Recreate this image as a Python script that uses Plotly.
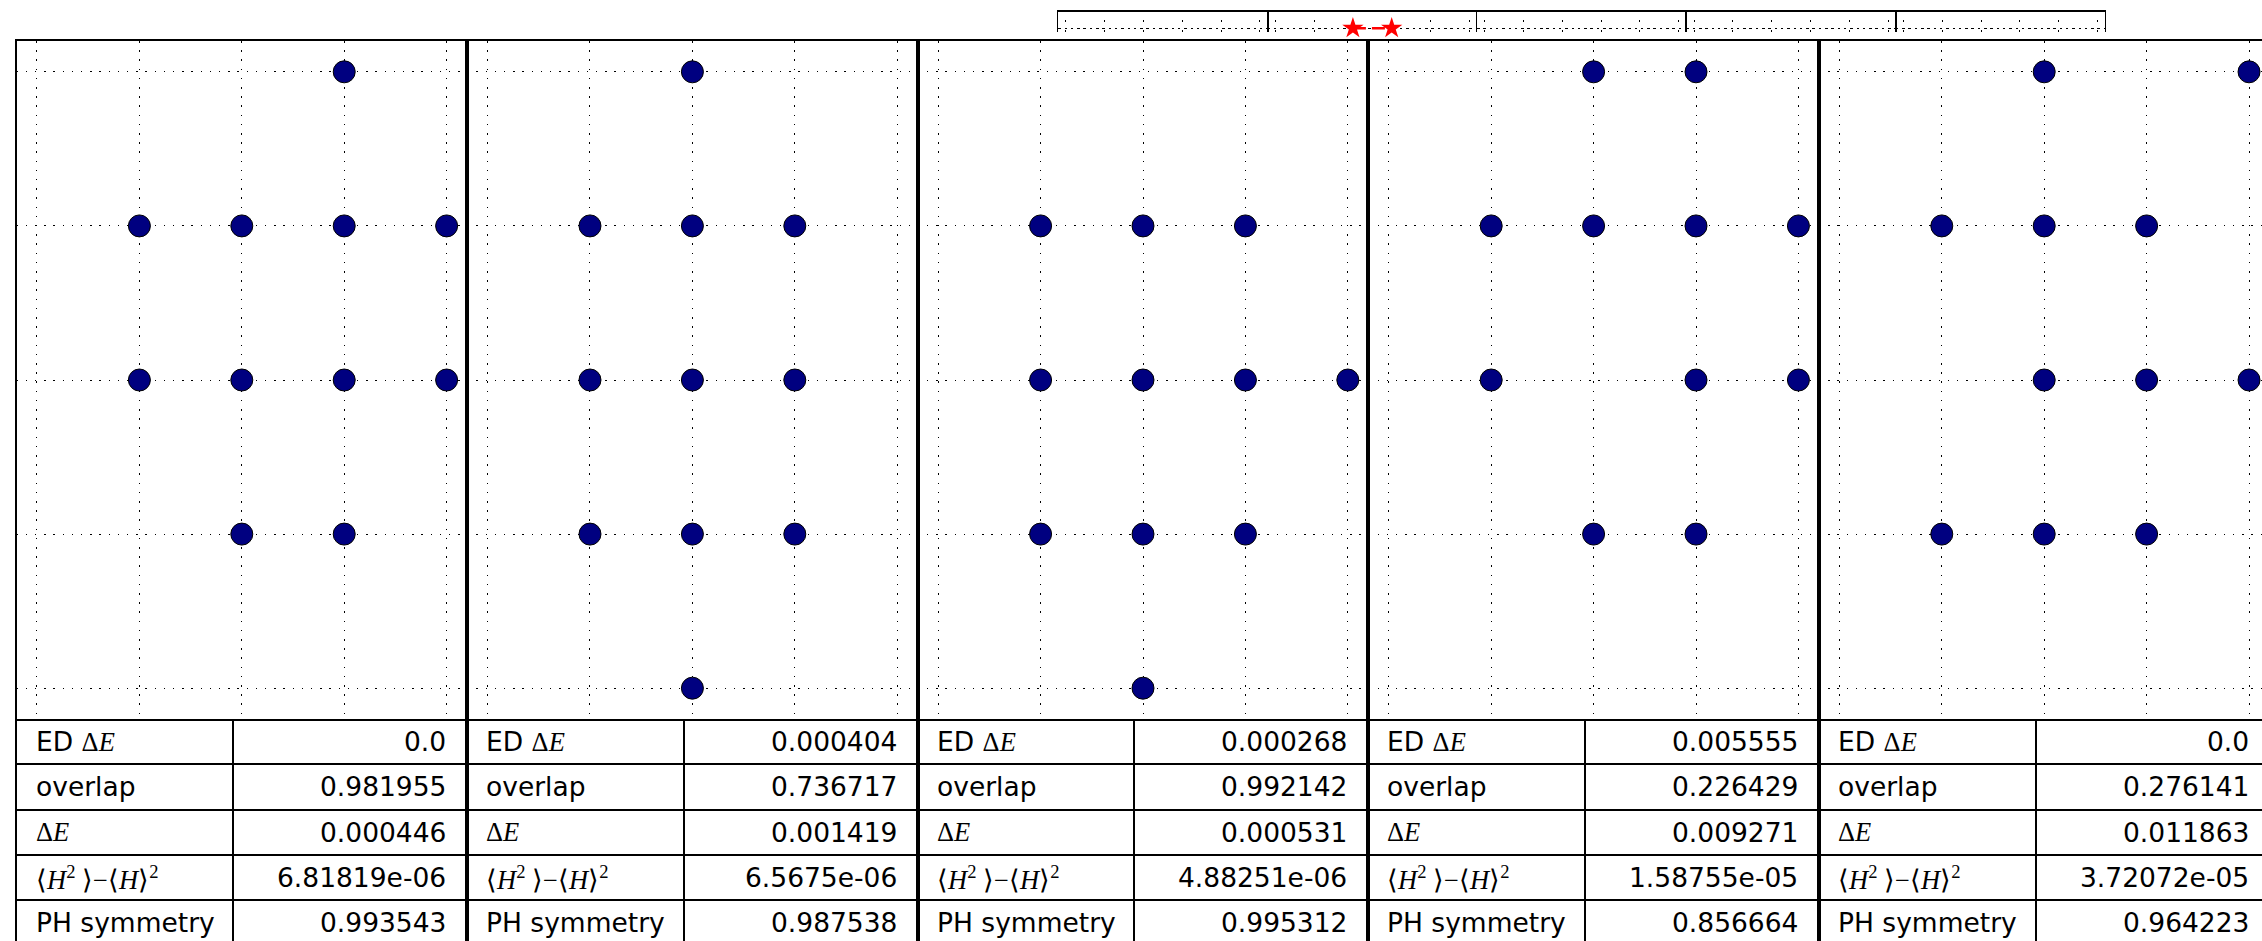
import plotly.graph_objects as go

# ---------------- data ----------------
# occupied grid sites in each of the 5 panels (column index, row index from top)
p1_x = [3, 1, 2, 3, 4, 1, 2, 3, 4, 2, 3]
p1_y = [0, 1, 1, 1, 1, 2, 2, 2, 2, 3, 3]
p2_x = [2, 1, 2, 3, 1, 2, 3, 1, 2, 3, 2]
p2_y = [0, 1, 1, 1, 2, 2, 2, 3, 3, 3, 4]
p3_x = [1, 2, 3, 1, 2, 3, 4, 1, 2, 3, 2]
p3_y = [1, 1, 1, 2, 2, 2, 2, 3, 3, 3, 4]
p4_x = [2, 3, 1, 2, 3, 4, 1, 3, 4, 2, 3]
p4_y = [0, 0, 1, 1, 1, 1, 2, 2, 2, 3, 3]
p5_x = [2, 4, 1, 2, 3, 2, 3, 4, 1, 2, 3]
p5_y = [0, 0, 1, 1, 1, 2, 2, 2, 3, 3, 3]
panels_x = [p1_x, p2_x, p3_x, p4_x, p5_x]
panels_y = [p1_y, p2_y, p3_y, p4_y, p5_y]

grid_ticks = [0, 1, 2, 3, 4]
chain_ticks = [0, 1, 2, 3, 4, 5]

# top chain strip: red stars (only in the second box)
chain_x = [[], [2, 3], [], [], []]
chain_y = [[], [0, 0], [], [], []]

row_labels = [
    'ED <span style="font-family:Liberation Serif">Δ<i>E</i></span>',
    'overlap',
    '<span style="font-family:Liberation Serif">Δ<i>E</i></span>',
    '<span style="font-family:Liberation Serif">⟨<i>H</i><sup>2</sup> ⟩−⟨<i>H</i>⟩<sup>2</sup></span>',
    'PH symmetry',
]
ed_dE = [0.0, 0.000404, 0.000268, 0.005555, 0.0]
overlap = [0.981955, 0.736717, 0.992142, 0.226429, 0.276141]
dE = [0.000446, 0.001419, 0.000531, 0.009271, 0.011863]
variance = [6.81819e-06, 6.5675e-06, 4.88251e-06, 1.58755e-05, 3.72072e-05]
ph_sym = [0.993543, 0.987538, 0.995312, 0.856664, 0.964223]

# ---------------- layout geometry (pixels) ----------------
W, H = 2262, 941
def fx(px):
    return max(0.0, min(1.0, px / W))
def fy(py):
    return max(0.0, min(1.0, 1 - py / H))

P_LEFT, P_W = 16.5, 450.6
P_TOP, P_BOT = 41.0, 719.0
I_LEFT, I_W = 1058.2, 209.4
I_TOP, I_BOT = 11.7, 32.3
ROW_H = 45.3
LABEL_W = 216.6

fig = go.Figure()
layout = dict(
    width=W, height=H,
    margin=dict(l=0, r=0, t=0, b=0),
    paper_bgcolor='white', plot_bgcolor='white',
    showlegend=False,
    template='none',
    annotations=[],
)

FONT = dict(family='DejaVu Sans', size=26.5, color='black')
axis_common = dict(
    showgrid=True, gridcolor='black', gridwidth=1,
    showticklabels=False, ticks='', zeroline=False,
    showline=True, linecolor='black', fixedrange=True,
)

for i in range(5):
    n = i + 1
    left = P_LEFT + i * P_W
    right_full = left + P_W
    right = min(right_full, W)
    xr = -0.2 + (right - left) / P_W * 4.4
    layout[f'xaxis{n}'] = dict(
        axis_common, domain=[fx(left), fx(right)], range=[-0.2, xr],
        tickvals=grid_ticks, griddash='1.5px,7.7px', linewidth=2, mirror=True,
        anchor=f'y{n}',
    )
    layout[f'yaxis{n}'] = dict(
        axis_common, domain=[fy(P_BOT), fy(P_TOP)], range=[4.2, -0.2],
        tickvals=grid_ticks, griddash='1.5px,7.7px', linewidth=2, mirror=True,
        anchor=f'x{n}',
    )
    fig.add_trace(go.Scatter(
        x=panels_x[i], y=panels_y[i], mode='markers',
        xaxis=f'x{n}', yaxis=f'y{n}',
        marker=dict(size=22, color='#000080', line=dict(color='black', width=1)),
        hoverinfo='skip',
    ))

    # ----- table under the panel (its own axes: columns in px units, rows in row units)
    t = 11 + i
    tw = right - left
    layout[f'xaxis{t}'] = dict(
        axis_common, domain=[fx(left), fx(right)], range=[0, tw],
        tickvals=[LABEL_W], gridwidth=2, griddash='solid', showline=False,
        anchor=f'y{t}',
    )
    layout[f'yaxis{t}'] = dict(
        axis_common, domain=[0, fy(P_BOT)], range=[(H - P_BOT) / ROW_H, 0],
        tickvals=[1, 2, 3, 4], gridwidth=2, griddash='solid',
        linewidth=2, mirror=True, anchor=f'x{t}',
    )
    fig.add_trace(go.Scatter(x=[], y=[], xaxis=f'x{t}', yaxis=f'y{t}',
                             mode='markers', hoverinfo='skip'))
    vals = [ed_dE[i], overlap[i], dE[i], variance[i], ph_sym[i]]
    anchor_x = min(P_W, tw)
    for r in range(5):
        layout['annotations'].append(dict(
            xref=f'x{t}', yref=f'y{t}', x=0, y=r + 0.5,
            text=row_labels[r], showarrow=False, xanchor='left', yanchor='middle',
            xshift=17, font=FONT,
        ))
        layout['annotations'].append(dict(
            xref=f'x{t}', yref=f'y{t}', x=anchor_x, y=r + 0.5,
            text=str(vals[r]), showarrow=False, xanchor='right', yanchor='middle',
            xshift=-19 + (P_W - anchor_x), font=FONT,
        ))

# ----- top chain strip (5 small boxes)
for k in range(5):
    n = 6 + k
    left = I_LEFT + k * I_W
    right = left + I_W
    layout[f'xaxis{n}'] = dict(
        axis_common, domain=[fx(left), fx(right)], range=[-0.2, 5.2],
        tickvals=chain_ticks, griddash='0px,8px,2.5px,0px',
        side='top', mirror=False, linewidth=1.5,
        anchor=f'y{n}',
    )
    layout[f'yaxis{n}'] = dict(
        axis_common, domain=[fy(I_BOT), fy(I_TOP)], range=[-0.2, 0.831],
        tickvals=[0], griddash='2.5px,3.8px', mirror=True, linewidth=1.2,
        anchor=f'x{n}',
    )
    fig.add_trace(go.Scatter(
        x=chain_x[k], y=chain_y[k], mode='lines+markers',
        xaxis=f'x{n}', yaxis=f'y{n}',
        line=dict(color='red', width=2.5, dash='13px,6px'),
        marker=dict(symbol='star', size=16, color='red', line=dict(width=0)),
        cliponaxis=False, hoverinfo='skip',
    ))

fig.update_layout(**layout)
fig.write_html('out.html', config={'displayModeBar': False},
               post_script="document.body.style.margin='0';document.body.style.overflow='hidden';")
